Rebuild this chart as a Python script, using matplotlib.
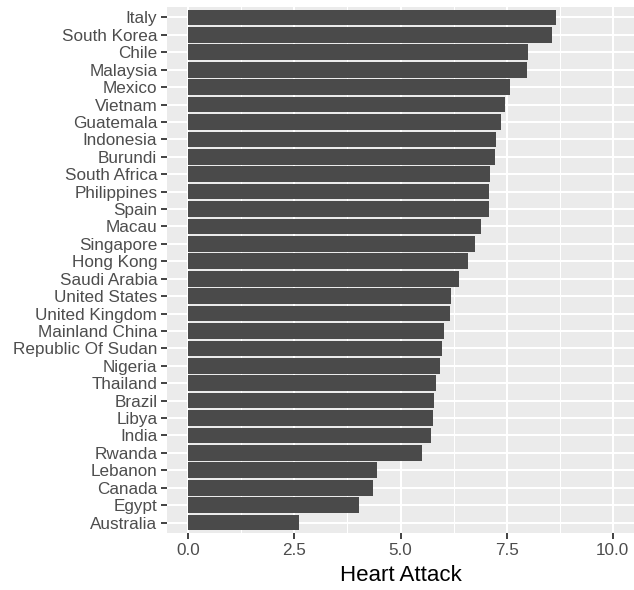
import matplotlib.pyplot as plt
from matplotlib.ticker import MultipleLocator

plt.rcParams['font.family'] = ['Liberation Sans', 'DejaVu Sans']

countries = ['Italy', 'South Korea', 'Chile', 'Malaysia', 'Mexico', 'Vietnam',
             'Guatemala', 'Indonesia', 'Burundi', 'South Africa', 'Philippines',
             'Spain', 'Macau', 'Singapore', 'Hong Kong', 'Saudi Arabia',
             'United States', 'United Kingdom', 'Mainland China',
             'Republic Of Sudan', 'Nigeria', 'Thailand', 'Brazil', 'Libya',
             'India', 'Rwanda', 'Lebanon', 'Canada', 'Egypt', 'Australia']
heart_attack = [8.66, 8.58, 8.01, 7.97, 7.59, 7.46, 7.37, 7.26, 7.22, 7.11,
                7.09, 7.08, 6.89, 6.76, 6.60, 6.38, 6.19, 6.17, 6.03, 5.97,
                5.92, 5.84, 5.80, 5.77, 5.73, 5.51, 4.44, 4.35, 4.02, 2.62]

# bottom-to-top order for barh
ys = list(range(len(countries)))[::-1]

fig = plt.figure(figsize=(6.34, 5.90), dpi=100)
ax = fig.add_axes([167 / 634, 1 - 533 / 590, 1 - 167 / 634, 526 / 590])
ax.set_facecolor('#EBEBEB')

ax.barh(ys, heart_attack, height=0.9, color='#4a4a4a', zorder=3)

ax.set_xlim(-0.5, 10.5)
ax.set_ylim(-0.6, len(countries) - 1 + 0.6)
ax.xaxis.set_minor_locator(MultipleLocator(1.25))
ax.set_xticks([0, 2.5, 5, 7.5, 10])
ax.set_xticklabels(['0.0', '2.5', '5.0', '7.5', '10.0'])
ax.set_yticks(ys)
ax.set_yticklabels(countries)

ax.grid(which='major', color='white', linewidth=1.5, zorder=1)
ax.grid(which='minor', axis='x', color='white', linewidth=0.75, zorder=1)
ax.set_axisbelow(True)

for s in ax.spines.values():
    s.set_visible(False)

ax.tick_params(axis='both', which='major', length=4, width=1.3, color='#333333',
               labelcolor='#4D4D4D', labelsize=12.3, pad=3)
ax.tick_params(axis='x', which='minor', length=0)

ax.set_xlabel('Heart Attack', fontsize=16, color='black', labelpad=5)

fig.savefig('out.png', dpi=100)
